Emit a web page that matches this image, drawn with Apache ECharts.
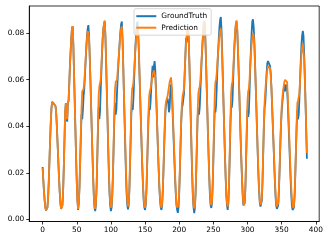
<!DOCTYPE html>
<html>
<head>
<meta charset="utf-8">
<script src="https://cdn.jsdelivr.net/npm/echarts@6/dist/echarts.min.js"></script>
<style>
html,body{margin:0;padding:0;background:#fff;}
#c{width:332px;height:242px;}
</style>
</head>
<body>
<div id="c"></div>
<script>
var seriesNames = ['GroundTruth', 'Prediction'];
var xTicks = [0, 50, 100, 150, 200, 250, 300, 350, 400];
var yTicks = [0.00, 0.02, 0.04, 0.06, 0.08];

var groundTruth = [
  .0225,.017,.012,.008,.005,.0038,.0035,.005,.009,.016,
  .025,.034,.042,.048,.0505,.0505,.050,.0495,.049,.0485,
  .045,.039,.032,.025,.018,.012,.007,.0045,.004,
  .006,.012,.022,.034,.046,.050,.043,.042,.050,.051,.058,.066,.072,.078,.082,.083,
  .075,.063,.051,.039,.027,.016,.008,.004,
  .007,.014,.025,.036,.045,.043,.047,.053,.056,.062,.068,.074,.079,.082,.0835,
  .079,.070,.060,.049,.038,.028,.018,.010,.005,.0035,
  .006,.013,.025,.038,.048,.043,.046,.055,.063,.071,.078,.082,.084,.085,
  .078,.067,.055,.043,.031,.020,.011,.006,.0035,
  .005,.010,.019,.031,.043,.050,.045,.047,.055,.061,.067,.072,.077,.081,.084,.085,
  .078,.067,.055,.043,.031,.020,.011,.006,.0043,
  .006,.012,.023,.035,.046,.049,.047,.052,.060,.068,.075,.080,.084,.085,
  .080,.071,.061,.051,.041,.031,.022,.014,.008,.005,.004,
  .006,.012,.022,.033,.043,.048,.047,.050,.056,.062,.066,.061,.066,.068,
  .064,.056,.047,.038,.029,.021,.013,.008,.005,.004,
  .006,.012,.021,.031,.040,.047,.050,.051,.052,.050,.046,.048,.055,.058,
  .056,.049,.041,.033,.025,.017,.011,.006,.004,.0028,
  .005,.011,.021,.032,.042,.048,.049,.049,.054,.062,.070,.078,.076,.081,.083,
  .077,.066,.054,.042,.030,.019,.010,.005,.0026,
  .005,.011,.021,.033,.044,.048,.045,.048,.055,.062,.069,.075,.080,.084,.085,
  .080,.071,.060,.049,.038,.028,.018,.010,.006,.0049,
  .007,.014,.025,.037,.047,.046,.049,.057,.065,.072,.078,.083,.086,.087,
  .081,.071,.060,.049,.038,.027,.018,.010,.006,.004,
  .007,.015,.027,.040,.049,.048,.051,.060,.068,.075,.080,.084,.085,
  .081,.073,.064,.054,.044,.034,.025,.017,.010,.006,.0054,
  .007,.014,.026,.038,.047,.044,.046,.055,.065,.073,.080,.085,.086,.083,
  .077,.068,.058,.048,.038,.028,.019,.012,.007,.0055,.0054,
  .008,.016,.028,.040,.048,.050,.056,.063,.067,.068,.068,.068,.066,.063,
  .057,.049,.041,.033,.025,.017,.010,.006,.0045,.004,
  .006,.012,.021,.031,.040,.046,.050,.053,.056,.058,.055,.057,.058,
  .056,.050,.042,.034,.026,.018,.011,.006,.004,.0035,
  .005,.010,.019,.030,.040,.047,.043,.045,.052,.060,.068,.075,.079,.081,
  .079,.071,.061,.050,.038,.026
];

var prediction = [
  .022,.017,.012,.008,.005,.004,.0038,.005,.009,.016,
  .025,.034,.042,.048,.0505,.0505,.050,.0495,.049,.0485,
  .045,.039,.032,.025,.018,.012,.007,.0045,.004,
  .006,.012,.022,.034,.046,.050,.044,.043,.050,.051,.058,.066,.072,.078,.082,.083,
  .075,.063,.051,.039,.027,.016,.008,.0045,
  .007,.014,.025,.037,.048,.055,.055,.056,.059,.064,.069,.074,.078,.081,.0815,
  .078,.070,.060,.049,.038,.028,.018,.010,.0055,.0045,
  .007,.014,.026,.040,.053,.057,.057,.060,.066,.072,.078,.082,.0845,.0855,
  .079,.068,.056,.044,.032,.021,.012,.007,.005,
  .006,.011,.020,.033,.046,.056,.059,.059,.060,.064,.068,.072,.076,.080,.082,.083,
  .077,.066,.055,.044,.033,.022,.013,.008,.0055,
  .007,.013,.024,.037,.050,.056,.057,.059,.064,.069,.074,.078,.081,.082,
  .079,.072,.062,.052,.042,.032,.023,.015,.009,.006,.005,
  .007,.013,.023,.035,.046,.053,.055,.056,.058,.060,.062,.063,.064,.064,
  .061,.055,.047,.038,.029,.021,.014,.009,.006,.005,
  .007,.013,.022,.033,.042,.049,.051,.052,.053,.055,.057,.059,.060,.061,
  .058,.051,.043,.035,.027,.019,.012,.007,.005,.0045,
  .006,.012,.022,.033,.043,.050,.053,.053,.056,.063,.070,.076,.079,.081,.082,
  .077,.067,.055,.043,.031,.020,.011,.006,.0047,
  .006,.012,.022,.034,.046,.054,.056,.057,.060,.065,.070,.075,.080,.084,.085,
  .080,.071,.060,.049,.038,.028,.019,.012,.007,.006,
  .008,.015,.027,.040,.053,.059,.060,.063,.068,.072,.076,.079,.081,.082,
  .078,.069,.059,.048,.038,.028,.019,.011,.007,.0054,
  .008,.016,.029,.043,.054,.058,.059,.064,.070,.076,.081,.084,.0855,
  .082,.074,.065,.055,.045,.035,.026,.018,.011,.007,.006,
  .008,.015,.027,.040,.051,.055,.056,.060,.066,.071,.075,.078,.080,.079,
  .075,.067,.058,.048,.038,.029,.020,.013,.008,.0062,.006,
  .009,.017,.029,.041,.050,.055,.059,.062,.064,.066,.066,.066,.065,.062,
  .057,.050,.042,.034,.026,.018,.012,.007,.0055,.0049,
  .007,.013,.022,.032,.041,.048,.052,.055,.057,.059,.060,.0605,.0605,
  .059,.053,.045,.037,.029,.021,.014,.009,.006,.0049,
  .006,.011,.020,.031,.042,.050,.051,.051,.054,.060,.066,.071,.074,.0757,
  .075,.069,.060,.050,.039,.0285
];

function pairs(arr) { return arr.map(function (v, i) { return [i, v]; }); }

var FONT = 'DejaVu Sans';
var chart = echarts.init(document.getElementById('c'), null, {renderer: 'canvas'});
chart.setOption({
  animation: false,
  backgroundColor: '#fff',
  grid: {left: 29.3, right: 12.8, top: 6, bottom: 20.5, show: true,
         borderColor: '#000', borderWidth: 0.8, backgroundColor: 'transparent'},
  legend: {
    left: 134, top: 8.7, orient: 'vertical',
    padding: [3, 4, 3, 2.3], itemGap: 2.5,
    itemWidth: 20, itemHeight: 2,
    backgroundColor: 'rgba(255,255,255,0.8)',
    borderColor: '#cccccc', borderWidth: 0.8, borderRadius: 2,
    textStyle: {fontFamily: FONT, fontSize: 7.4, color: '#000', lineHeight: 9},
    data: [
      {name: seriesNames[0], icon: 'rect', itemStyle: {color: '#1f77b4'}},
      {name: seriesNames[1], icon: 'rect', itemStyle: {color: '#ff7f0e'}}
    ]
  },
  xAxis: {
    type: 'value', min: -19.5, max: 405,
    axisLine: {show: true, onZero: false, lineStyle: {color: '#000', width: 0.8}},
    axisTick: {show: true, length: 3, lineStyle: {color: '#000', width: 0.8}, customValues: xTicks},
    axisLabel: {fontFamily: FONT, fontSize: 7.4, color: '#000', margin: 5, customValues: xTicks,
                formatter: function (v) { return String(v); }},
    splitLine: {show: false}
  },
  yAxis: {
    type: 'value', min: -0.00095, max: 0.0917,
    axisLine: {show: true, onZero: false, lineStyle: {color: '#000', width: 0.8}},
    axisTick: {show: true, length: 3, lineStyle: {color: '#000', width: 0.8}, customValues: yTicks},
    axisLabel: {fontFamily: FONT, fontSize: 7.4, color: '#000', margin: 5, customValues: yTicks,
                formatter: function (v) { return v.toFixed(2); }},
    splitLine: {show: false}
  },
  series: [
    {name: seriesNames[0], type: 'line', data: pairs(groundTruth), showSymbol: false,
     lineStyle: {color: '#1f77b4', width: 1.8}, itemStyle: {color: '#1f77b4'}, z: 2},
    {name: seriesNames[1], type: 'line', data: pairs(prediction), showSymbol: false,
     lineStyle: {color: '#ff7f0e', width: 1.8}, itemStyle: {color: '#ff7f0e'}, z: 3}
  ]
});
</script>
</body>
</html>
